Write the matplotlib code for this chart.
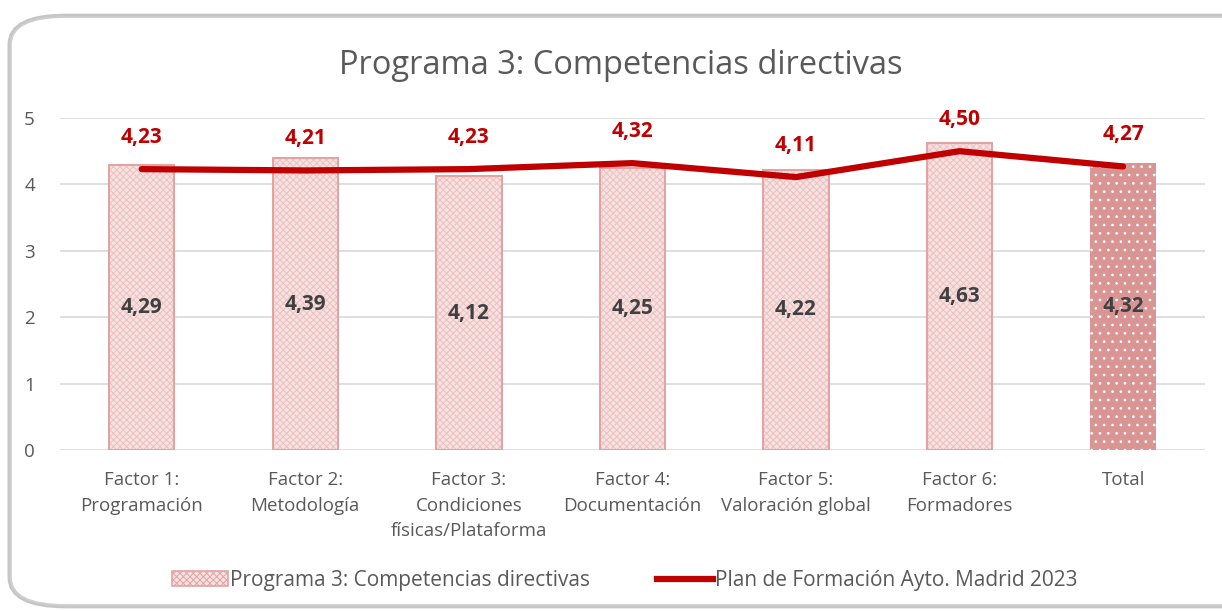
import matplotlib.pyplot as plt
from matplotlib.patches import FancyBboxPatch, Patch
from matplotlib.lines import Line2D

# Chart data
categories = [
    "Factor 1:\nProgramación",
    "Factor 2:\nMetodología",
    "Factor 3:\nCondiciones\nfísicas/Plataforma",
    "Factor 4:\nDocumentación",
    "Factor 5:\nValoración global",
    "Factor 6:\nFormadores",
    "Total",
]
programa_values = [4.29, 4.39, 4.12, 4.25, 4.22, 4.63, 4.32]
plan_values = [4.23, 4.21, 4.23, 4.32, 4.11, 4.50, 4.27]

BAR_NAME = "Programa 3: Competencias directivas"
LINE_NAME = "Plan de Formación Ayto. Madrid 2023"


def fmt(v):
    return f"{v:.2f}".replace(".", ",")


plt.rcParams["font.family"] = ["Open Sans", "DejaVu Sans"]
plt.rcParams["hatch.linewidth"] = 0.7

fig = plt.figure(figsize=(12.22, 6.11), dpi=100)

# rounded card with a soft top shadow
shadow = FancyBboxPatch((0.009, 0.01), 1.05, 0.962, boxstyle="round,pad=0,rounding_size=0.045",
                        transform=fig.transFigure, facecolor="none", edgecolor="#a0a0a0",
                        linewidth=5, alpha=0.6, zorder=-2)
card = FancyBboxPatch((0.009, 0.01), 1.05, 0.962, boxstyle="round,pad=0,rounding_size=0.045",
                      transform=fig.transFigure, facecolor="white", edgecolor="#d0d0d0",
                      linewidth=1.2, zorder=-1)
fig.patches.extend([shadow, card])

ax = fig.add_axes([0.049, 0.2635, 0.937, 0.5434])
ax.set_zorder(2)
ax.set_facecolor("none")

x = list(range(len(categories)))
width = 0.4

for i, v in enumerate(programa_values):
    if categories[i] == "Total":
        ax.bar(i, v, width, color="#d99594", hatch="..", edgecolor="white", linewidth=0, zorder=2)
    else:
        ax.bar(i, v, width, color="#f7e2e2", hatch="xxxxx", edgecolor="#ecc0c0", linewidth=0, zorder=2)
        ax.bar(i, v, width, fill=False, edgecolor="#e2a3a3", linewidth=1.5, zorder=2.5)
    ax.text(i, v / 2, fmt(v), ha="center", va="center", fontsize=15,
            fontweight="bold", color="#404040", zorder=4)

ax.plot(x, plan_values, color="#c00000", linewidth=4.5, solid_capstyle="round", zorder=3)
for i, v in enumerate(plan_values):
    ax.text(i, v + 0.48, fmt(v), ha="center", va="center", fontsize=15,
            fontweight="bold", color="#c00000", zorder=4)

ax.set_xlim(-0.5, len(categories) - 0.5)
ax.set_ylim(0, 5)
ax.set_yticks(range(0, 6))
ax.set_xticks(x)
ax.set_xticklabels(categories, fontsize=13.5, color="#595959", linespacing=1.55)
ax.tick_params(axis="y", labelsize=13.5, labelcolor="#595959", length=0, pad=18)
ax.tick_params(axis="x", length=0, pad=15)
ax.grid(axis="y", color="#d9d9d9", linewidth=1.2, zorder=0)
ax.set_axisbelow(True)
for s in ax.spines.values():
    s.set_visible(False)

fig.text(0.508, 0.893, BAR_NAME, ha="center", va="center", fontsize=23.5, color="#595959")

handles = [
    Patch(facecolor="#f7e2e2", edgecolor="#e2a3a3", hatch="xxxxx", linewidth=1.2),
    Line2D([0], [0], color="#c00000", linewidth=4.5),
]
fig.legend(handles, [BAR_NAME, LINE_NAME], loc="center", bbox_to_anchor=(0.511, 0.05),
           ncol=2, frameon=False, fontsize=15, labelcolor="#595959", handlelength=2.7,
           handletextpad=0.1, columnspacing=3.2)

fig.savefig("out.png", dpi=100)
